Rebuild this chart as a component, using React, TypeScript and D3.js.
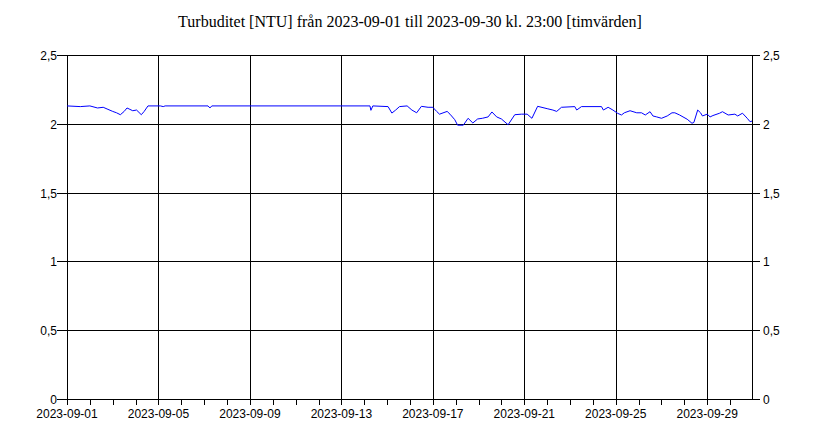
import React from "react";
import * as d3 from "d3";

const titleText = "Turbuditet [NTU] från 2023-09-01 till 2023-09-30 kl. 23:00 [timvärden]";
const startDate = new Date(2023, 8, 1, 0, 0);
const endDate = new Date(2023, 8, 30, 23, 0);

// hours since 2023-09-01 00:00
const hours = [
  0, 14, 24, 32, 38, 43, 48, 52, 56, 60, 63, 66, 69, 73, 78, 81, 85,
  98, 101, 103, 148, 150, 152,
  318, 319, 321, 337, 341, 345, 349, 357, 362, 367, 372, 379, 384, 388, 391, 399, 402,
  407, 410, 416, 421, 426, 431, 436, 442, 446, 451, 456, 463, 470, 477, 483, 488, 494,
  504, 510, 514, 519, 533, 535, 540, 561, 563, 568, 573, 578, 582, 585, 591, 598, 603,
  607, 612, 615, 619, 624, 630, 635, 638, 643, 651, 656, 658, 662, 665, 667, 672, 675,
  678, 685, 688, 694, 701, 704, 709, 714, 717, 719,
];
const values = [
  2.13, 2.125, 2.13, 2.115, 2.12, 2.105, 2.09, 2.08, 2.066, 2.09, 2.115, 2.105, 2.095, 2.1, 2.066, 2.09, 2.13,
  2.13, 2.125, 2.13, 2.13, 2.115, 2.13,
  2.13, 2.098, 2.13, 2.125, 2.078, 2.1, 2.125, 2.13, 2.1, 2.08, 2.127, 2.12, 2.12, 2.09, 2.07, 2.09, 2.07,
  2.03, 1.99, 1.99, 2.04, 2.006, 2.035, 2.04, 2.05, 2.086, 2.05, 2.035, 1.993, 2.066, 2.07, 2.07, 2.04, 2.127,
  2.11, 2.1, 2.09, 2.12, 2.125, 2.1, 2.125, 2.125, 2.1, 2.12, 2.1, 2.076, 2.064, 2.08, 2.095, 2.08, 2.08,
  2.064, 2.088, 2.057, 2.05, 2.04, 2.057, 2.08, 2.08, 2.064, 2.033, 2.004, 2.01, 2.1, 2.08, 2.057, 2.07, 2.05,
  2.06, 2.077, 2.088, 2.064, 2.07, 2.057, 2.077, 2.04, 2.015, 2.02,
];

const yTicks = [0, 0.5, 1, 1.5, 2, 2.5];
const majorTickDays = ["2023-09-01", "2023-09-05", "2023-09-09", "2023-09-13", "2023-09-17", "2023-09-21", "2023-09-25", "2023-09-29"];

const W = 820, H = 444;
const M = { left: 67, right: 752, top: 55, bottom: 399 };

const sv = d3.formatLocale({ decimal: ",", thousands: " ", grouping: [3], currency: ["", " kr"] });
const fmtY = sv.format("~g");
const parseDay = d3.timeParse("%Y-%m-%d");

export default function App() {
  const x = d3.scaleTime().domain([startDate, endDate]).range([M.left, M.right]);
  const y = d3.scaleLinear().domain([0, 2.5]).range([M.bottom, M.top]);
  const data = hours.map((h, i) => ({ t: d3.timeHour.offset(startDate, h), v: values[i] }));
  const line = d3.line<{ t: Date; v: number }>().x(d => x(d.t)).y(d => y(d.v));
  const dailyTicks = d3.timeDay.range(startDate, endDate);
  const majors = majorTickDays.map(s => parseDay(s) as Date);
  const axisFont = "'Liberation Sans', Arial, sans-serif";

  return (
    <svg width={W} height={H} style={{ position: "absolute", left: 0, top: 0, background: "#fff" }}>
      <rect x={0} y={0} width={W} height={H} fill="#fff" />
      <text x={410} y={27} textAnchor="middle" fontFamily="'Liberation Serif', 'Times New Roman', serif" fontSize={16} fill="#000">
        {titleText}
      </text>
      {/* horizontal grid + y ticks */}
      {yTicks.map(v => (
        <g key={"y" + v}>
          <line x1={M.left - 10} x2={M.right + 8} y1={Math.round(y(v)) + 0.5} y2={Math.round(y(v)) + 0.5} stroke="#000" strokeWidth={1} />
          <text x={M.left - 10} y={Math.round(y(v)) + 0.5} dy="0.35em" textAnchor="end" fontFamily={axisFont} fontSize={12} fill="#000">{fmtY(v)}</text>
          <text x={M.right + 11} y={Math.round(y(v)) + 0.5} dy="0.35em" textAnchor="start" fontFamily={axisFont} fontSize={12} fill="#000">{fmtY(v)}</text>
        </g>
      ))}
      {/* daily minor ticks */}
      {dailyTicks.map(d => (
        <line key={"d" + d.getTime()} x1={Math.round(x(d)) + 0.5} x2={Math.round(x(d)) + 0.5} y1={M.bottom} y2={M.bottom + 6} stroke="#000" strokeWidth={1} />
      ))}
      {/* vertical grid at majors */}
      {majors.map(d => (
        <g key={"m" + d.getTime()}>
          <line x1={Math.round(x(d)) + 0.5} x2={Math.round(x(d)) + 0.5} y1={M.top} y2={M.bottom + 6} stroke="#000" strokeWidth={1} />
          <text x={x(d)} y={418} textAnchor="middle" fontFamily={axisFont} fontSize={12} fill="#000">{d3.timeFormat("%Y-%m-%d")(d)}</text>
        </g>
      ))}
      {/* frame sides */}
      <line x1={M.left + 0.5} x2={M.left + 0.5} y1={M.top} y2={M.bottom} stroke="#000" />
      <line x1={M.right + 0.5} x2={M.right + 0.5} y1={M.top} y2={M.bottom} stroke="#000" />
      <path d={line(data) || ""} fill="none" stroke="#0000ff" strokeWidth={1} />
    </svg>
  );
}
